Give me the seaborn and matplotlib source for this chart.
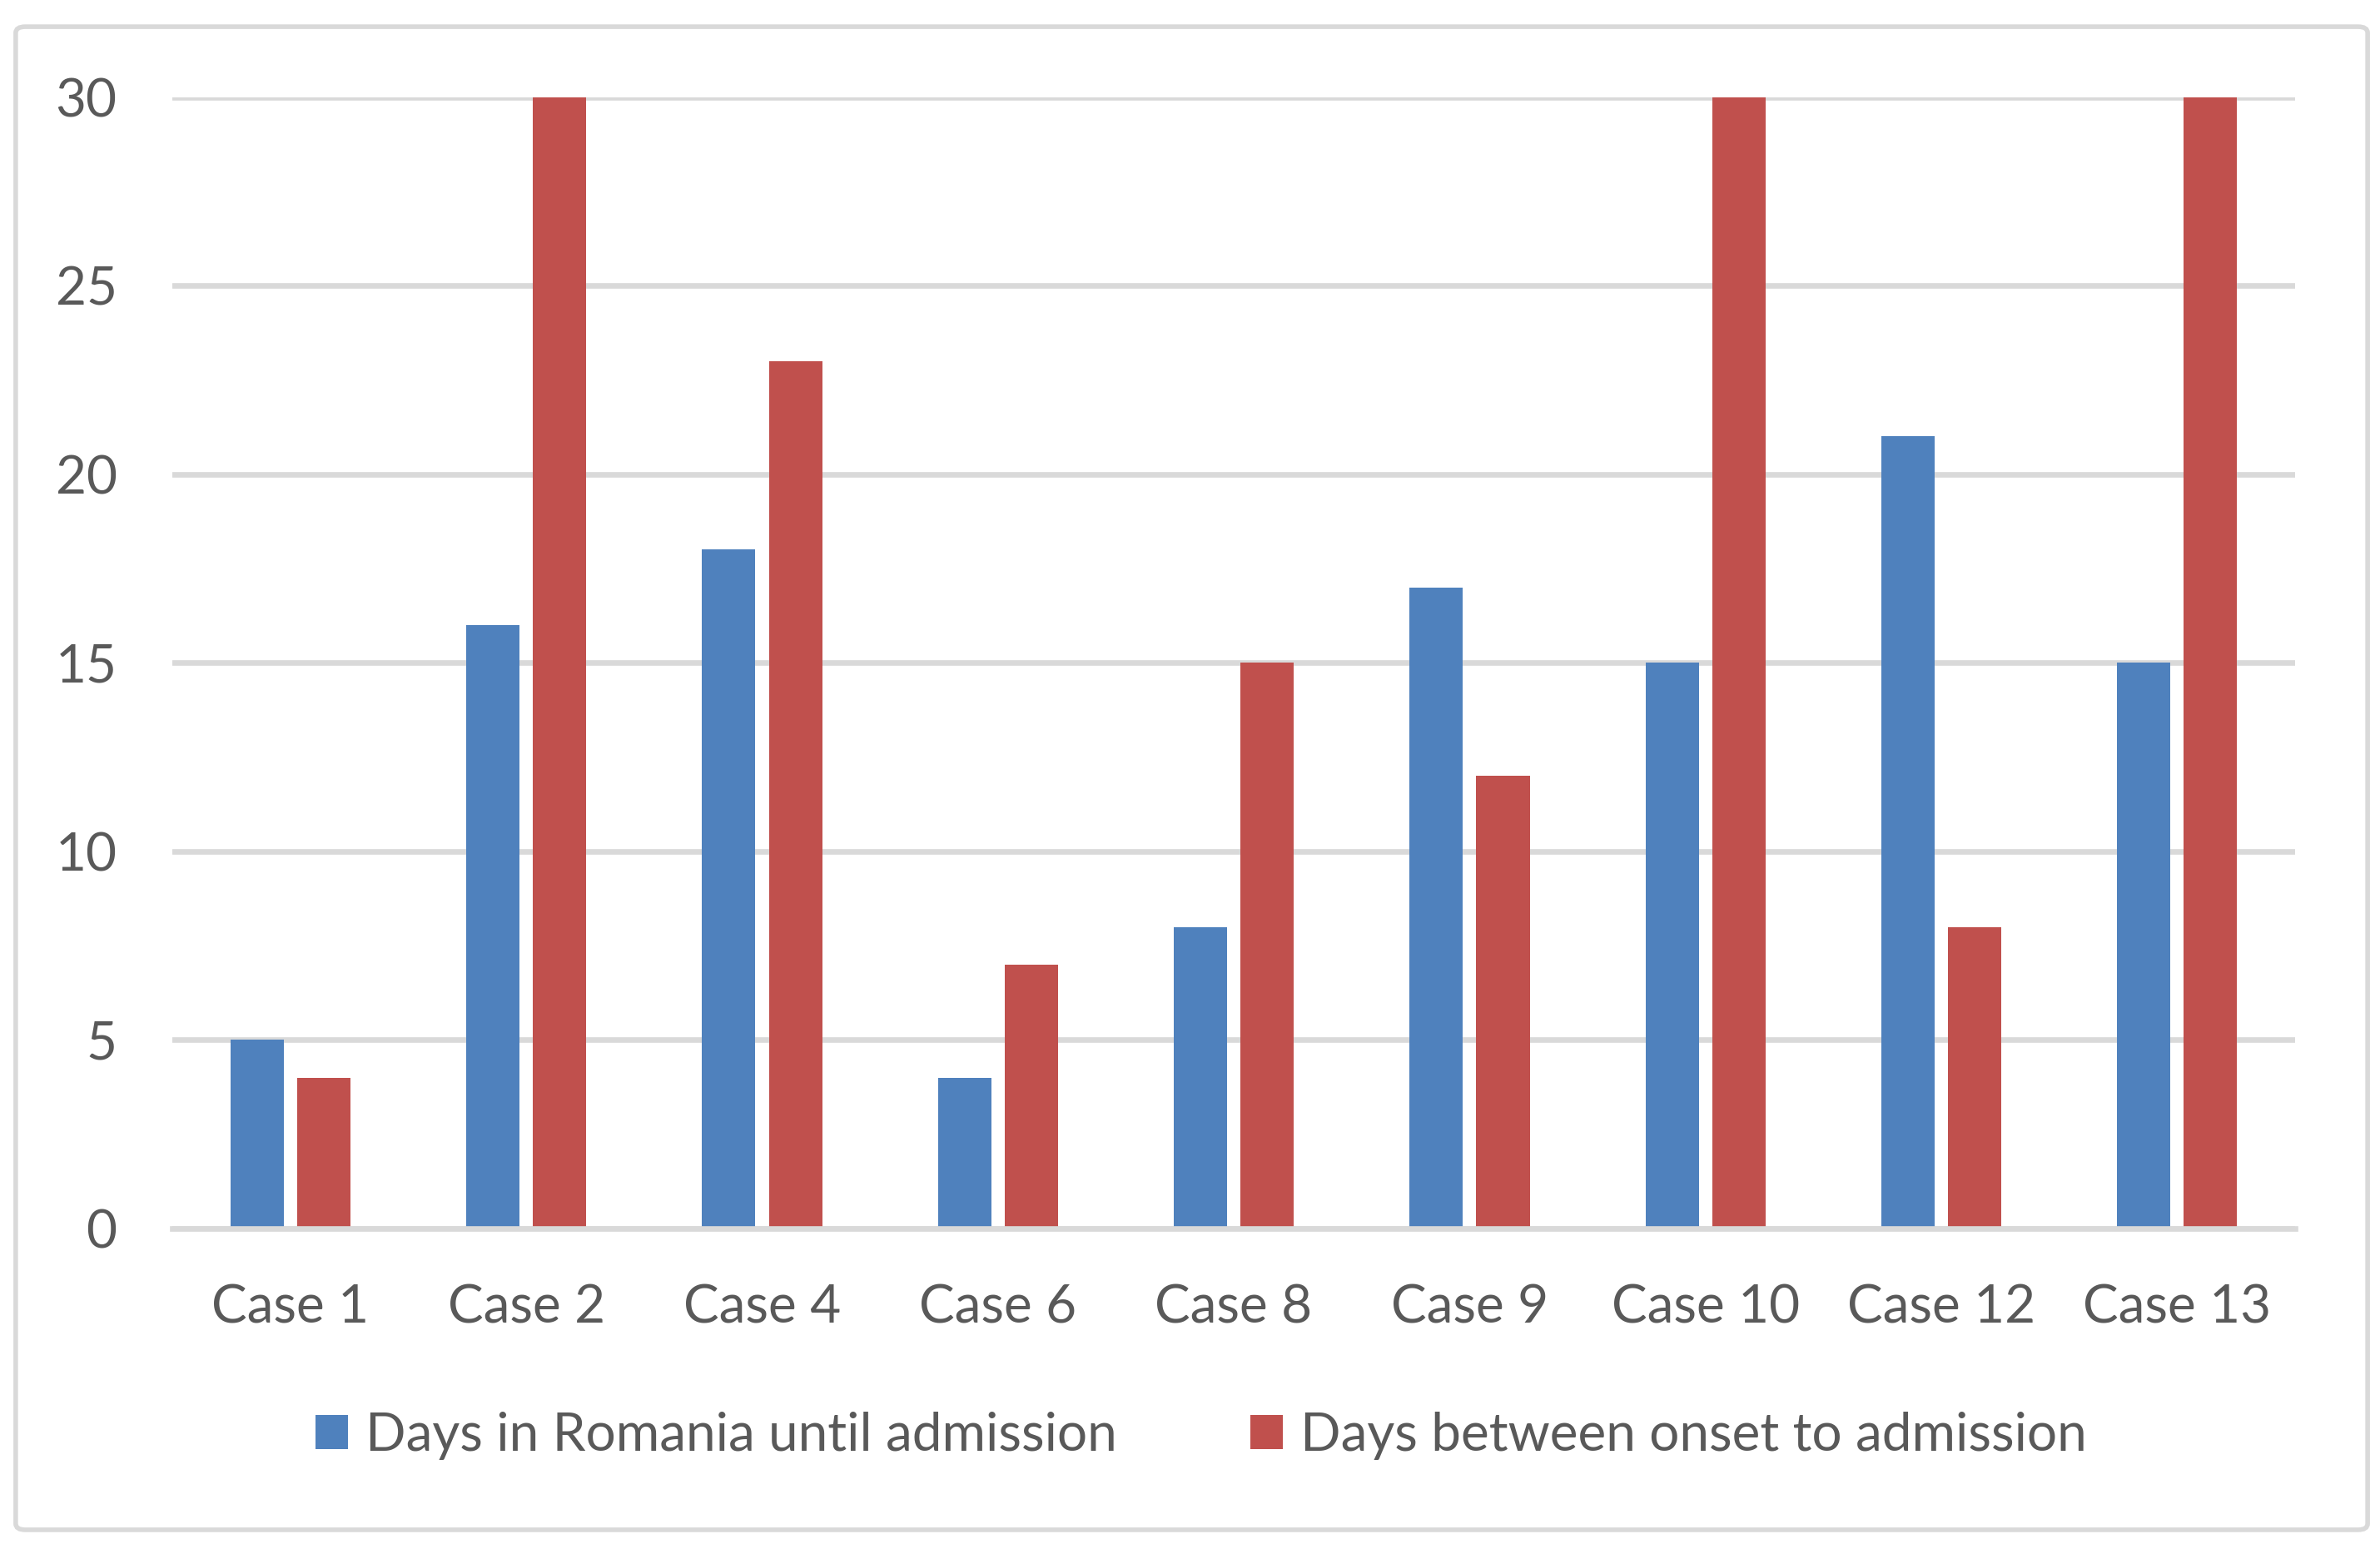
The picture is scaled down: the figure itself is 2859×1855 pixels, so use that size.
import matplotlib
matplotlib.use("Agg")
import matplotlib.pyplot as plt
import seaborn as sns
import pandas as pd
from matplotlib.patches import FancyBboxPatch

cases = ["Case 1", "Case 2", "Case 4", "Case 6", "Case 8", "Case 9", "Case 10", "Case 12", "Case 13"]
days_in_romania = [5, 16, 18, 4, 8, 17, 15, 21, 15]
days_onset = [4, 30, 23, 7, 15, 12, 30, 8, 30]
series_names = ["Days in Romania until admission", "Days between onset to admission"]
colors = ["#4F81BD", "#C0504D"]
yticks = [0, 5, 10, 15, 20, 25, 30]

df = pd.DataFrame({
    "case": cases * 2,
    "days": days_in_romania + days_onset,
    "series": [series_names[0]] * len(cases) + [series_names[1]] * len(cases),
})

sns.set_theme(style="white")
plt.rcParams["font.family"] = ["Lato", "DejaVu Sans"]
text_color = "#595959"
grid_color = "#D9D9D9"

fig = plt.figure(figsize=(14.295, 9.275), dpi=200)
ax = fig.add_axes([0.0725, 0.2043, 0.9643 - 0.0725, 0.9371 - 0.2043])

sns.barplot(data=df, x="case", y="days", hue="series", order=cases,
            hue_order=series_names, palette=colors, width=0.566, gap=0.2,
            saturation=1, linewidth=0, ax=ax, zorder=3, legend=True)

ax.set_ylim(0, 30)
ax.set_xlim(-0.5, len(cases) - 0.5)
ax.set_yticks(yticks)
ax.set_yticklabels([str(v) for v in yticks])
ax.yaxis.grid(True, color=grid_color, linewidth=2.4, zorder=0)
ax.set_axisbelow(True)
for s in ["top", "right", "left"]:
    ax.spines[s].set_visible(False)
ax.spines["bottom"].set_color(grid_color)
ax.spines["bottom"].set_linewidth(2.4)
ax.spines["bottom"].set_zorder(4)
ax.set_xlabel("")
ax.set_ylabel("")
ax.tick_params(axis="both", length=0, labelsize=23, colors=text_color)
ax.tick_params(axis="y", pad=24)
ax.tick_params(axis="x", pad=24)

handles, labels = ax.get_legend_handles_labels()
ax.get_legend().remove()
fig.legend(handles, labels, loc="center", bbox_to_anchor=(0.5047, 0.070),
           ncol=2, frameon=False, fontsize=23, handlelength=0.62,
           handleheight=0.62, handletextpad=0.33, columnspacing=2.5,
           labelcolor=text_color)

border = FancyBboxPatch((0.0066, 0.0092), 0.9948 - 0.0066, 0.9827 - 0.0092,
                        boxstyle="round,pad=0,rounding_size=0.004",
                        transform=fig.transFigure, fill=False,
                        edgecolor=grid_color, linewidth=2.0)
fig.patches.append(border)

fig.savefig("out.png", dpi=200, facecolor="white")
